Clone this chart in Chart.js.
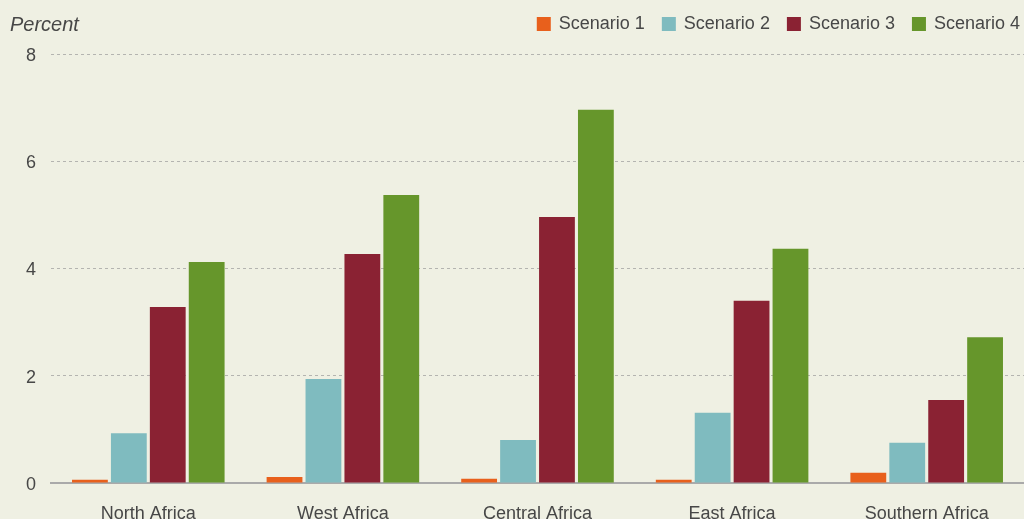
<!DOCTYPE html>
<html>
<head>
<meta charset="utf-8">
<script src="https://cdn.jsdelivr.net/npm/chart.js@4"></script>
<style>
  html, body { margin: 0; padding: 0; background: #eff0e3; overflow: hidden; }
  #wrap { width: 1024px; height: 519px; position: relative; }
</style>
</head>
<body>
<div id="wrap"><canvas id="chart"></canvas></div>
<script>
// --- data ---
const regions = ['North Africa', 'West Africa', 'Central Africa', 'East Africa', 'Southern Africa'];
const seriesNames = ['Scenario 1', 'Scenario 2', 'Scenario 3', 'Scenario 4'];
const scenario1 = [0.06, 0.11, 0.08, 0.06, 0.19];
const scenario2 = [0.93, 1.94, 0.80, 1.31, 0.75];
const scenario3 = [3.28, 4.27, 4.96, 3.40, 1.55];
const scenario4 = [4.12, 5.37, 6.96, 4.37, 2.72];
const yTicks = [0, 2, 4, 6, 8];
const axisTitle = 'Percent';

const colors = ['#e8601c', '#7fbbbf', '#8a2233', '#66962b'];
const FONT = '"Liberation Sans", Arial, sans-serif';
const TEXT = '#474747';

// legend + unit label drawn on the canvas (top row)
const topRow = {
  id: 'topRow',
  afterDraw(chart) {
    const ctx = chart.ctx;
    ctx.save();
    ctx.fillStyle = TEXT;
    ctx.font = 'italic 20px ' + FONT;
    ctx.textBaseline = 'alphabetic';
    ctx.fillText(axisTitle, 10, 31);

    ctx.font = '18px ' + FONT;
    ctx.textBaseline = 'middle';
    let x = chart.width - 4;
    chart.data.datasets.slice().reverse().forEach(ds => {
      const w = ctx.measureText(ds.label).width;
      x -= w;
      ctx.fillStyle = TEXT;
      ctx.fillText(ds.label, x, 24);
      x -= 8 + 14;
      ctx.fillStyle = ds.backgroundColor;
      ctx.fillRect(x, 17, 14, 14);
      x -= 17;
    });
    ctx.restore();
  }
};

const allSeries = [scenario1, scenario2, scenario3, scenario4];

new Chart(document.getElementById('chart'), {
  type: 'bar',
  data: {
    labels: regions,
    datasets: allSeries.map((vals, i) => ({
      label: seriesNames[i],
      data: vals,
      backgroundColor: colors[i],
      borderWidth: 0,
      categoryPercentage: 0.8,
      barPercentage: 0.92
    }))
  },
  options: {
    responsive: true,
    maintainAspectRatio: false,
    animation: false,
    layout: { padding: { top: 54, right: 0, left: 0, bottom: 0 } },
    plugins: {
      legend: { display: false },
      tooltip: { enabled: false }
    },
    scales: {
      x: {
        grid: { display: false, drawTicks: false },
        border: { display: true, color: '#aaaaaa', width: 2 },
        ticks: { color: TEXT, font: { size: 18, family: FONT }, padding: 20, maxRotation: 0 },
        afterFit(scale) { scale.height = 36; }
      },
      y: {
        min: 0,
        max: 8,
        afterBuildTicks(scale) { scale.ticks = yTicks.map(v => ({ value: v })); },
        grid: {
          drawTicks: false,
          color: ctx => ctx.tick && ctx.tick.value === 0 ? 'rgba(0,0,0,0)' : '#b4b4b0',
          lineWidth: 1
        },
        border: { display: false, dash: [3, 3] },
        ticks: { color: TEXT, font: { size: 18, family: FONT }, padding: 15, labelOffset: 2 },
        afterFit(scale) { scale.width = 51; }
      }
    }
  },
  plugins: [topRow]
});
</script>
</body>
</html>
